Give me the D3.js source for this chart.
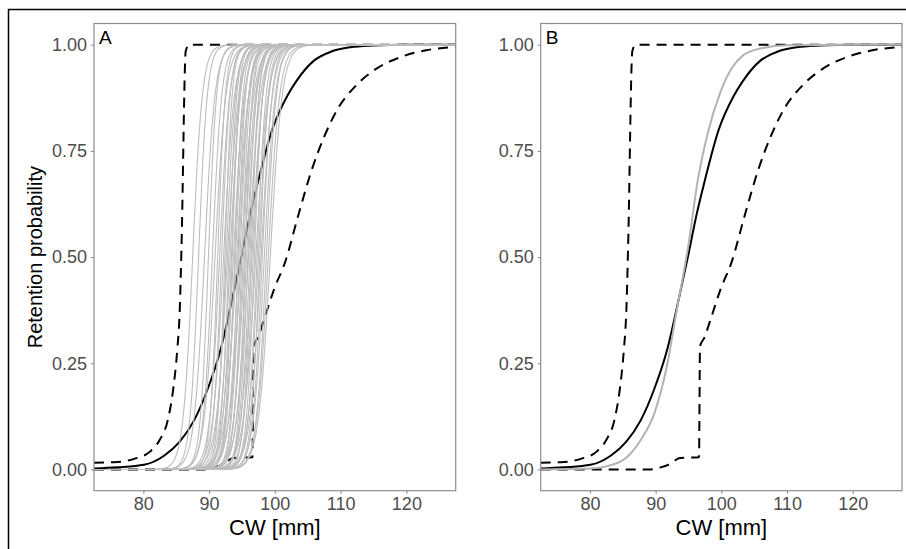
<!DOCTYPE html>
<html>
<head>
<meta charset="utf-8">
<script src="https://cdn.jsdelivr.net/npm/d3@7"></script>
<style>
  body { margin: 0; background: #fff; }
  svg { display: block; font-family: "Liberation Sans", Arial, sans-serif; }
</style>
</head>
<body>
<div id="chart"></div>
<script>
const width = 906, height = 549;

// x ticks and y ticks
const xTicks = [80, 90, 100, 110, 120];
const yTicks = [0, 0.25, 0.5, 0.75, 1];

// black solid curve (same in both panels)
const blackCW = [72.5, 76, 80.1, 83.2, 85.5, 87.7, 89.8, 91.8, 93.5, 94.9, 96.3, 97.4, 99.6, 101.9, 103.3, 105.9, 108.6, 111.5, 115, 120, 127.5];
const blackP  = [0.002, 0.005, 0.011, 0.033, 0.065, 0.115, 0.19, 0.285, 0.40, 0.50, 0.605, 0.675, 0.80, 0.88, 0.915, 0.962, 0.984, 0.994, 0.998, 1.0, 1.0];

// dashed upper bound
const upperCW = [72.5, 75.5, 78.6, 81, 82.5, 83.7, 84.55, 85.15, 85.55, 85.8, 86.45, 86.95, 127.5];
const upperP  = [0.016, 0.017, 0.025, 0.042, 0.07, 0.115, 0.19, 0.28, 0.38, 0.52, 0.985, 1.0, 1.0];

// dashed lower bound
const lowerCW = [72.5, 89, 90.5, 91.8, 92.8, 93.7, 96.6, 96.75, 97.4, 98.5, 99.9, 101.6, 103.5, 105.6, 107.6, 109.6, 112.4, 115.7, 119.5, 123, 127.5];
const lowerP  = [0, 0, 0.004, 0.01, 0.02, 0.027, 0.029, 0.29, 0.31, 0.36, 0.425, 0.49, 0.595, 0.705, 0.787, 0.85, 0.905, 0.946, 0.973, 0.987, 0.995];

// grey curve of panel B
const greyBCW = [72.5, 80, 82.7, 85.7, 87.75, 89.8, 91.8, 93.3, 94.35, 95.0, 96.4, 97.9, 99.9, 101.6, 103.3, 105.9, 110, 127.5];
const greyBP  = [0, 0.002, 0.008, 0.03, 0.07, 0.132, 0.25, 0.383, 0.47, 0.53, 0.68, 0.79, 0.89, 0.945, 0.975, 0.991, 0.999, 1.0];

// grey curves of panel A: L50 and slope of each fitted curve
const greyAL50 = [87.5, 88.4, 89.3, 89.9, 90.5, 90.9, 91.3, 91.6, 91.9, 92.2, 92.4, 92.6, 92.8, 93.0, 93.2, 93.4, 93.5, 93.7, 93.9, 94.0, 94.2, 94.4, 94.5, 94.7, 94.9, 95.0, 95.2, 95.4, 95.5, 95.7, 95.9, 96.0, 96.2, 96.4, 96.5, 96.7, 96.9, 97.1, 97.3, 97.5, 97.7, 97.9, 98.1, 98.4, 98.7, 99.0, 99.3];
const greyASlope = [1.35, 1.5, 1.25, 1.6, 1.4, 1.2, 1.7, 1.3, 1.55, 1.2, 1.8, 1.4, 1.15, 1.65, 1.3, 1.5, 1.9, 1.2, 1.6, 1.35, 1.1, 1.75, 1.3, 1.5, 1.05, 1.6, 1.4, 1.2, 1.85, 1.3, 1.55, 1.1, 1.45, 1.7, 1.2, 1.4, 1.6, 1.05, 1.45, 1.25, 1.5, 1.15, 1.35, 1.2, 1.3, 1.15, 1.1];

const svg = d3.select("#chart").append("svg")
  .attr("width", width)
  .attr("height", height);

// cadre noir autour de la figure
svg.append("path")
  .attr("d", "M8.5," + height + "V9.5H" + width)
  .style("fill", "none")
  .style("stroke", "#000")
  .style("stroke-width", 1.5);

const plotTop = 23.5, plotBottom = 490.7;

const panels = [
  { label: "A", left: 94, right: 455.7 },
  { label: "B", left: 540.7, right: 902 }
];

function zip(a, b) { return a.map((v, i) => [v, b[i]]); }

panels.forEach((p, k) => {
  const x = d3.scaleLinear().domain([72.5, 127.5]).range([p.left, p.right]);
  const y = d3.scaleLinear().domain([-0.05, 1.05]).range([plotBottom, plotTop]);

  const g = svg.append("g");

  g.append("clipPath").attr("id", "clip" + k)
    .append("rect")
    .attr("x", p.left).attr("y", plotTop)
    .attr("width", p.right - p.left).attr("height", plotBottom - plotTop);

  const line = d3.line()
    .x(d => x(d[0]))
    .y(d => y(d[1]))
    .curve(d3.curveMonotoneX);

  const plot = g.append("g").attr("clip-path", "url(#clip" + k + ")");

  // dashed bounds
  [zip(upperCW, upperP), zip(lowerCW, lowerP)].forEach(d => {
    plot.append("path")
      .attr("d", line(d))
      .style("fill", "none")
      .style("stroke", "#000")
      .style("stroke-width", 2)
      .style("stroke-dasharray", "10,7");
  });

  // black solid
  plot.append("path")
    .attr("d", line(zip(blackCW, blackP)))
    .style("fill", "none")
    .style("stroke", "#000")
    .style("stroke-width", 2);

  // grey curves
  if (p.label == "A") {
    const xs = d3.range(72.5, 127.6, 0.1);
    greyAL50.forEach((l50, i) => {
      const b = greyASlope[i];
      const pts = xs.map(c => [c, 1 / (1 + Math.exp(-b * (c - l50)))]);
      plot.append("path")
        .attr("d", line(pts))
        .style("fill", "none")
        .style("stroke", "#bdbdbd")
        .style("stroke-width", 1.1);
    });
  } else {
    plot.append("path")
      .attr("d", line(zip(greyBCW, greyBP)))
      .style("fill", "none")
      .style("stroke", "#b3b3b3")
      .style("stroke-width", 2);
  }

  // panel border
  g.append("rect")
    .attr("x", p.left).attr("y", plotTop)
    .attr("width", p.right - p.left).attr("height", plotBottom - plotTop)
    .style("fill", "none")
    .style("stroke", "#8c8c8c")
    .style("stroke-width", 1.2);

  // axes
  const xAxis = g.append("g")
    .attr("transform", "translate(0," + plotBottom + ")")
    .call(d3.axisBottom(x).tickValues(xTicks).tickSize(3).tickPadding(4));
  const yAxis = g.append("g")
    .attr("transform", "translate(" + p.left + ",0)")
    .call(d3.axisLeft(y).tickValues(yTicks).tickFormat(d3.format(".2f")).tickSize(3).tickPadding(4));

  [xAxis, yAxis].forEach(a => {
    a.select(".domain").remove();
    a.selectAll("line").style("stroke", "#8c8c8c").style("stroke-width", 1.1);
    a.selectAll("text")
      .style("font-size", "18px")
      .style("fill", "#4d4d4d")
      .style("font-family", "'Liberation Sans', Arial, sans-serif");
  });

  // panel letter
  g.append("text")
    .attr("x", p.left + 5)
    .attr("y", plotTop + 20)
    .style("font-size", "19px")
    .style("fill", "#000")
    .text(p.label);

  // x title
  g.append("text")
    .attr("x", (p.left + p.right) / 2)
    .attr("y", 535)
    .attr("text-anchor", "middle")
    .style("font-size", "22px")
    .style("fill", "#000")
    .text("CW [mm]");
});

// y title
svg.append("text")
  .attr("transform", "translate(42," + (plotTop + plotBottom) / 2 + ") rotate(-90)")
  .attr("text-anchor", "middle")
  .style("font-size", "20px")
  .style("fill", "#000")
  .text("Retention probability");
</script>
</body>
</html>
